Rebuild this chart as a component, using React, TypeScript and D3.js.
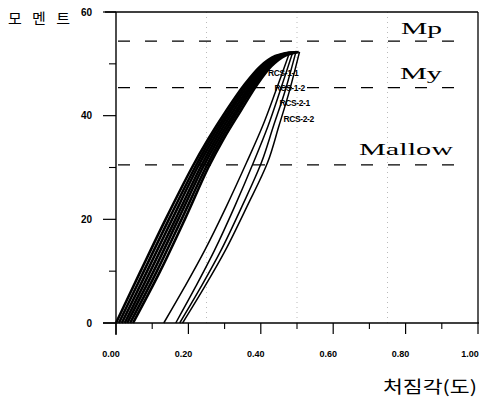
import React from "react";
import * as d3 from "d3";

type Pt = [number, number];

const xTicks = [0, 0.2, 0.4, 0.6, 0.8, 1.0];
const xTickLabels = ["0.00", "0.20", "0.40", "0.60", "0.80", "1.00"];
const xMinor = [0.1, 0.3, 0.5, 0.7, 0.9];
const yTicks = [0, 20, 40, 60];
const yTickLabels = ["0", "20", "40", "60"];
const yMinor = [10, 30, 50];
const gridX = [0.25, 0.5, 0.75];

const refLevels = [54.4, 45.4, 30.5];
const refNames = ["Mp", "My", "Mallow"];

const loadC0: Pt[] = [[0, 0], [0.068, 10], [0.137, 20], [0.21, 30], [0.255, 35.5], [0.305, 41], [0.355, 46], [0.4, 49.6], [0.44, 51.5], [0.48, 52.2]];
const loadC1: Pt[] = [[0.008, 0], [0.077, 10], [0.146, 20], [0.218, 30], [0.262, 35.5], [0.312, 41], [0.361, 46], [0.405, 49.6], [0.445, 51.5], [0.484, 52.2]];
const loadC2: Pt[] = [[0.016, 0], [0.086, 10], [0.155, 20], [0.225, 30], [0.269, 35.5], [0.318, 41], [0.367, 46], [0.41, 49.6], [0.449, 51.5], [0.488, 52.25]];
const loadC3: Pt[] = [[0.024, 0], [0.095, 10], [0.164, 20], [0.233, 30], [0.276, 35.5], [0.325, 41], [0.373, 46], [0.415, 49.6], [0.454, 51.55], [0.493, 52.25]];
const loadC4: Pt[] = [[0.031, 0], [0.104, 10], [0.172, 20], [0.24, 30], [0.283, 35.5], [0.332, 41], [0.378, 46], [0.42, 49.6], [0.459, 51.55], [0.497, 52.3]];
const loadC5: Pt[] = [[0.039, 0], [0.113, 10], [0.181, 20], [0.248, 30], [0.29, 35.5], [0.338, 41], [0.384, 46], [0.425, 49.6], [0.463, 51.6], [0.501, 52.3]];
const loadC6: Pt[] = [[0.047, 0], [0.122, 10], [0.19, 20], [0.255, 30], [0.297, 35.5], [0.345, 41], [0.39, 46], [0.43, 49.6], [0.468, 51.6], [0.505, 52.3]];

const unload1: Pt[] = [[0.132, 0], [0.19, 7], [0.245, 14], [0.305, 22.5], [0.361, 31], [0.405, 38], [0.44, 44.5], [0.479, 52.1]];
const unload2: Pt[] = [[0.165, 0], [0.22, 7], [0.272, 14], [0.328, 22.5], [0.38, 31], [0.42, 38], [0.452, 44.5], [0.488, 52.2]];
const unload3: Pt[] = [[0.176, 0], [0.235, 7], [0.29, 14], [0.348, 22.5], [0.402, 31], [0.435, 38], [0.466, 44.5], [0.497, 52.3]];
const unload4: Pt[] = [[0.184, 0], [0.245, 7], [0.302, 14], [0.362, 22.5], [0.419, 31], [0.45, 38], [0.478, 44.5], [0.507, 52.3]];

const loadCurves = [loadC0, loadC1, loadC2, loadC3, loadC4, loadC5, loadC6];
const unloadCurves = [unload1, unload2, unload3, unload4];

const seriesLabels = ["RCS-1-1", "RCS-1-2", "RCS-2-1", "RCS-2-2"];
const seriesLabelPos: Pt[] = [[0.42, 48.3], [0.438, 45.4], [0.452, 42.4], [0.463, 39.3]];

export default function App() {
  const W = 480, H = 400;
  const x = d3.scaleLinear().domain([0, 1]).range([116, 478]);
  const y = d3.scaleLinear().domain([0, 60]).range([323, 12]);
  const line = d3.line<Pt>().x(d => x(d[0])).y(d => y(d[1])).curve(d3.curveCatmullRom.alpha(0.5));
  const tickFont = "'Liberation Sans Narrow', 'Arial Narrow', 'Liberation Sans', Arial, sans-serif";

  return (
    <svg width={W} height={H} style={{ position: "absolute", left: 0, top: 0, background: "#fff" }}>
      <rect x={0} y={0} width={W} height={H} fill="#fff" />
      {gridX.map((g, i) => (
        <line key={"g" + i} x1={x(g)} x2={x(g)} y1={y(60)} y2={y(0)} stroke="#aaa" strokeWidth={0.8} strokeDasharray="1 4" />
      ))}
      <line x1={105} x2={478} y1={y(60)} y2={y(60)} stroke="#000" strokeWidth={1.3} />
      <line x1={478} x2={478} y1={y(60)} y2={y(0)} stroke="#000" strokeWidth={1.3} />
      <line x1={x(0)} x2={x(0)} y1={y(60)} y2={y(0) + 12} stroke="#000" strokeWidth={1.4} />
      <line x1={103} x2={479} y1={y(0)} y2={y(0)} stroke="#000" strokeWidth={1.4} />
      {yTicks.map((t, i) => (
        <g key={"yt" + i}>
          <line x1={103} x2={x(0)} y1={y(t)} y2={y(t)} stroke="#000" strokeWidth={1.2} />
          <text x={92} y={y(t)} dy="0.35em" textAnchor="end" fontFamily={tickFont} fontWeight="bold" fontSize={10}>{yTickLabels[i]}</text>
        </g>
      ))}
      {yMinor.map((t, i) => (
        <line key={"ym" + i} x1={109} x2={x(0)} y1={y(t)} y2={y(t)} stroke="#000" strokeWidth={1.1} />
      ))}
      {xTicks.map((t, i) => (
        <g key={"xt" + i}>
          <line x1={x(t)} x2={x(t)} y1={y(0)} y2={y(0) + 11} stroke="#000" strokeWidth={1.2} />
          <text x={Math.min(x(t) - 5, 470)} y={357} textAnchor="middle" fontFamily={tickFont} fontWeight="bold" fontSize={9}>{xTickLabels[i]}</text>
        </g>
      ))}
      {xMinor.map((t, i) => (
        <line key={"xm" + i} x1={x(t)} x2={x(t)} y1={y(0)} y2={y(0) + 6} stroke="#000" strokeWidth={1.1} />
      ))}
      {refLevels.map((v, i) => (
        <line key={"r" + i} x1={118} x2={466} y1={y(v)} y2={y(v)} stroke="#000" strokeWidth={1.3} strokeDasharray="12 15" />
      ))}
      <text x={401} y={34} fontFamily="'Liberation Serif', 'Times New Roman', serif" fontSize={17} textLength={41} lengthAdjust="spacingAndGlyphs">{refNames[0]}</text>
      <text x={400} y={79} fontFamily="'Liberation Serif', 'Times New Roman', serif" fontSize={17} textLength={42} lengthAdjust="spacingAndGlyphs">{refNames[1]}</text>
      <text x={359} y={155} fontFamily="'Liberation Serif', 'Times New Roman', serif" fontSize={17} textLength={94} lengthAdjust="spacingAndGlyphs">{refNames[2]}</text>
      {loadCurves.map((c, i) => (
        <path key={"l" + i} d={line(c) || ""} fill="none" stroke="#000" strokeWidth={2.6} />
      ))}
      {unloadCurves.map((c, i) => (
        <path key={"u" + i} d={line(c) || ""} fill="none" stroke="#000" strokeWidth={1.5} />
      ))}
      {seriesLabels.map((s, i) => (
        <text key={"s" + i} x={x(seriesLabelPos[i][0])} y={y(seriesLabelPos[i][1])} dy="0.35em" fontFamily="'Liberation Sans', Arial, sans-serif" fontWeight="bold" fontSize={8.5} letterSpacing={-0.4}>{s}</text>
      ))}
      <text x={8} y={24} fontFamily="'Noto Sans CJK KR', sans-serif" fontSize={15} textLength={62} lengthAdjust="spacing">모멘트</text>
      <text x={383} y={393} fontFamily="'Noto Sans CJK KR', sans-serif" fontSize={17} textLength={94} lengthAdjust="spacingAndGlyphs">처짐각(도)</text>
    </svg>
  );
}
